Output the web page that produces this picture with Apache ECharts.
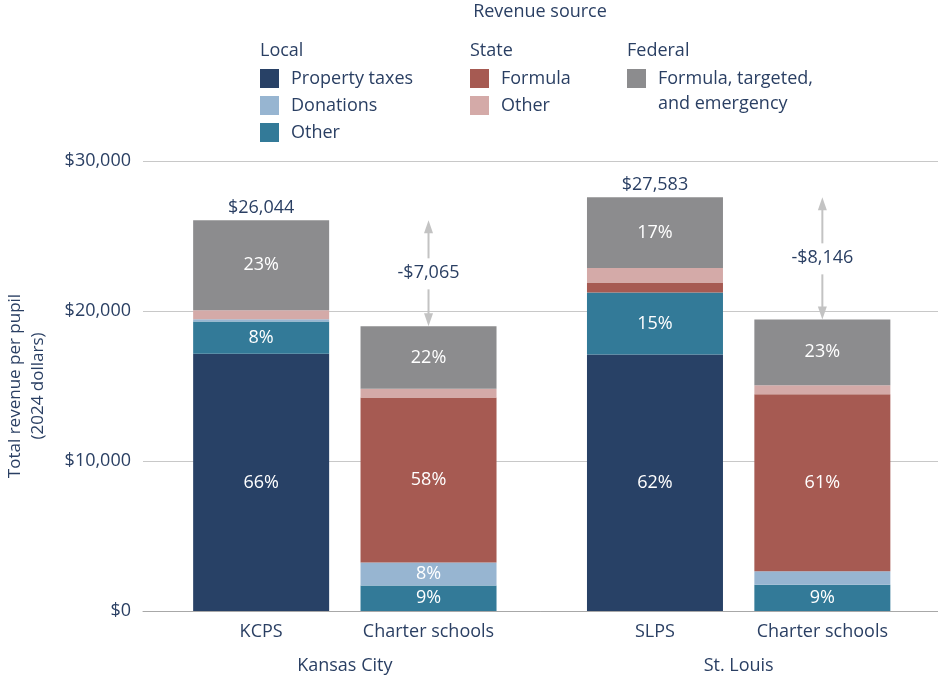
<!DOCTYPE html>
<html>
<head>
<meta charset="utf-8">
<script src="https://cdn.jsdelivr.net/npm/echarts@6/dist/echarts.min.js"></script>
<style>
  html, body { margin: 0; padding: 0; background: #ffffff; }
  #chart { width: 938px; height: 675px; }
</style>
</head>
<body>
<div id="chart"></div>
<script>
// ---- Data ----
const barLabels = ['KCPS', 'Charter schools', 'SLPS', 'Charter schools'];
const groupLabels = ['Kansas City', 'St. Louis'];
const propertyTaxes = [17150, 0, 17101, 0];
const localOther = [2150, 1708, 4137, 1749];
const donations = [150, 1518, 0, 900];
const stateFormula = [0, 11008, 670, 11800];
const stateOther = [600, 580, 955, 600];
const federal = [5994, 4165, 4720, 4388];
const yTicks = [0, 10000, 20000, 30000];

// ---- Layout constants (slot positions on a fine category grid) ----
const slotCount = 82;
const barSlots = [12, 29, 52, 69];
const groupSlotCount = 163;
const groupSlots = [41, 121];
const districtIdx = [0, 2];
const comparePairs = [[0, 1], [2, 3]];

const FONT = '"Open Sans", "Noto Sans", sans-serif';
const TXT = '#2a3f63';

const seriesDefs = [
  { name: 'Property taxes', data: propertyTaxes, color: '#284166' },
  { name: 'Other (local)', data: localOther, color: '#337a98' },
  { name: 'Donations', data: donations, color: '#97b5d1' },
  { name: 'Formula (state)', data: stateFormula, color: '#a65a52' },
  { name: 'Other (state)', data: stateOther, color: '#d4aaa8' },
  { name: 'Federal', data: federal, color: '#8c8c8e' }
];

const totals = barLabels.map((_, i) => seriesDefs.reduce((s, d) => s + d.data[i], 0));
const fmtMoney = v => '$' + Math.round(v).toLocaleString('en-US');

const xCats = Array.from({ length: slotCount }, (_, k) => {
  const i = barSlots.indexOf(k);
  return i >= 0 ? barLabels[i] : '';
});
const groupCats = Array.from({ length: groupSlotCount }, (_, k) => {
  const i = groupSlots.indexOf(k);
  return i >= 0 ? groupLabels[i] : '';
});
const slotData = arr => Array.from({ length: slotCount }, (_, k) => {
  const i = barSlots.indexOf(k);
  return (i >= 0 && arr[i] !== 0) ? arr[i] : null;
});

const barSeries = seriesDefs.map(d => ({
  name: d.name,
  type: 'bar',
  stack: 'total',
  barWidth: 136,
  xAxisIndex: 0,
  data: slotData(d.data),
  itemStyle: { color: d.color, borderWidth: 0 },
  label: {
    show: true,
    position: 'inside',
    color: '#ffffff',
    fontFamily: FONT,
    fontSize: 18,
    formatter: p => {
      const i = barSlots.indexOf(p.dataIndex);
      if (i < 0 || p.value == null) return '';
      const pct = p.value / totals[i] * 100;
      return pct >= 5 ? Math.round(pct) + '%' : '';
    }
  },
  emphasis: { disabled: true }
}));

const totalSeries = {
  name: 'totals',
  type: 'custom',
  silent: true,
  xAxisIndex: 0,
  data: districtIdx.map(i => [barSlots[i], totals[i]]),
  renderItem: (params, api) => {
    const p = api.coord([api.value(0), api.value(1)]);
    return {
      type: 'text',
      style: { text: fmtMoney(api.value(1)), x: p[0], y: p[1] - 12, align: 'center', verticalAlign: 'middle', fill: TXT, font: '18px ' + FONT }
    };
  },
  z: 5
};

const diffSeries = {
  name: 'diff',
  type: 'custom',
  silent: true,
  xAxisIndex: 0,
  data: comparePairs.map(([a, b]) => [barSlots[b], totals[a], totals[b]]),
  renderItem: (params, api) => {
    const x = api.value(0), hi = api.value(1), lo = api.value(2);
    const pT = api.coord([x, hi]);
    const pB = api.coord([x, lo]);
    const cx = pT[0];
    const mid = (pT[1] + pB[1]) / 2;
    const c = '#c3c3c3';
    const diff = lo - hi;
    const txt = (diff < 0 ? '-' : '') + fmtMoney(Math.abs(diff));
    return {
      type: 'group',
      children: [
        { type: 'line', shape: { x1: cx, y1: pT[1] + 10, x2: cx, y2: mid - 15 }, style: { stroke: c, lineWidth: 2 } },
        { type: 'line', shape: { x1: cx, y1: mid + 16, x2: cx, y2: pB[1] - 10 }, style: { stroke: c, lineWidth: 2 } },
        { type: 'polygon', shape: { points: [[cx, pT[1]], [cx - 4.5, pT[1] + 13], [cx + 4.5, pT[1] + 13]] }, style: { fill: c } },
        { type: 'polygon', shape: { points: [[cx, pB[1]], [cx - 4.5, pB[1] - 13], [cx + 4.5, pB[1] - 13]] }, style: { fill: c } },
        { type: 'text', style: { text: txt, x: cx, y: mid, align: 'center', verticalAlign: 'middle', fill: TXT, font: '18px ' + FONT } }
      ]
    };
  }
};

const legendCommon = {
  orient: 'vertical',
  icon: 'rect',
  padding: 0,
  itemWidth: 19,
  itemHeight: 19,
  itemGap: 8,
  selectedMode: false,
  itemStyle: { borderWidth: 0 },
  textStyle: { color: TXT, fontFamily: FONT, fontSize: 18, lineHeight: 19, padding: [0, 0, 0, 7] },
  formatter: n => n.replace(/ \((local|state)\)$/, '')
};

const head = (text, x, y, align) => ({
  type: 'text', x: x, y: y,
  style: { text: text, fill: TXT, font: '18px ' + FONT, align: align || 'left', verticalAlign: 'middle' }
});

const option = {
  animation: false,
  backgroundColor: '#ffffff',
  textStyle: { fontFamily: FONT },
  grid: { left: 143, right: -2.5, top: 161, bottom: 64, containLabel: false, outerBoundsMode: 'none' },
  legend: [
    Object.assign({}, legendCommon, { left: 260, top: 69, data: ['Property taxes', 'Donations', 'Other (local)'] }),
    Object.assign({}, legendCommon, { left: 470, top: 69, data: ['Formula (state)', 'Other (state)'] }),
    Object.assign({}, legendCommon, { left: 627, top: 69, data: ['Federal'], formatter: () => 'Formula, targeted,' })
  ],
  graphic: [
    head('Revenue source', 540, 12, 'center'),
    head('Local', 260, 51),
    head('State', 470, 51),
    head('Federal', 627, 51),
    head('and emergency', 658, 104)
  ],
  xAxis: [
    {
      type: 'category',
      data: xCats,
      boundaryGap: false,
      splitLine: { show: false },
      axisLine: { show: true, lineStyle: { color: '#a8a8a8', width: 1 } },
      axisTick: { show: false },
      axisLabel: { interval: 0, color: TXT, fontFamily: FONT, fontSize: 18, margin: 12 }
    },
    {
      type: 'category',
      data: groupCats,
      boundaryGap: false,
      position: 'bottom',
      offset: 34,
      splitLine: { show: false },
      axisLine: { show: false },
      axisTick: { show: false },
      axisLabel: { interval: 0, color: TXT, fontFamily: FONT, fontSize: 18, margin: 12 }
    }
  ],
  yAxis: {
    type: 'value',
    min: yTicks[0], max: yTicks[yTicks.length - 1], interval: 10000,
    name: 'Total revenue per pupil\n(2024 dollars)',
    nameLocation: 'middle',
    nameRotate: 90,
    nameGap: 93,
    nameTextStyle: { color: TXT, fontFamily: FONT, fontSize: 17, lineHeight: 23 },
    axisLine: { show: false },
    axisTick: { show: false },
    splitLine: { lineStyle: { color: '#c8c8c8', width: 1 } },
    axisLabel: { color: TXT, fontFamily: FONT, fontSize: 18, margin: 12, formatter: v => fmtMoney(v) }
  },
  series: barSeries.concat([totalSeries, diffSeries])
};

const chart = echarts.init(document.getElementById('chart'), null, { renderer: 'canvas' });
chart.setOption(option);
</script>
</body>
</html>
